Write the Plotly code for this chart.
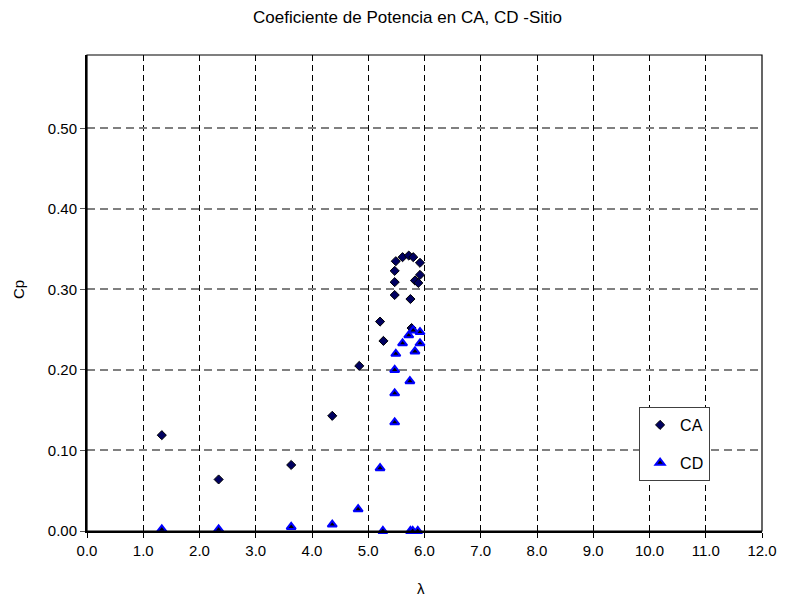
import plotly.graph_objects as go

# Tip speed ratio (lambda) and power coefficient for each configuration
ca_lambda = [1.33, 2.34, 3.63, 4.36, 4.84, 5.21, 5.27, 5.47, 5.47, 5.47, 5.49, 5.61, 5.72,
             5.75, 5.77, 5.80, 5.83, 5.89, 5.92, 5.92]
ca_cp = [0.119, 0.064, 0.082, 0.143, 0.205, 0.260, 0.236, 0.293, 0.309, 0.323, 0.335, 0.340,
         0.342, 0.288, 0.252, 0.340, 0.311, 0.308, 0.318, 0.333]

cd_lambda = [1.33, 2.34, 3.63, 4.36, 4.82, 5.21, 5.26, 5.47, 5.47, 5.47, 5.49, 5.61, 5.72,
             5.74, 5.75, 5.79, 5.80, 5.83, 5.88, 5.92, 5.92]
cd_cp = [0.002, 0.002, 0.005, 0.008, 0.027, 0.078, 0.0, 0.135, 0.171, 0.200, 0.220, 0.233,
         0.243, 0.186, 0.0, 0.0, 0.249, 0.223, 0.0, 0.233, 0.247]

x_ticks = [i * 1.0 for i in range(13)]
y_ticks = [0.0, 0.1, 0.2, 0.3, 0.4, 0.5]

FONT = "Liberation Sans, Arial, sans-serif"

L, R, T, B = 87, 21, 55, 68
W, H = 789, 599

fig = go.Figure()
fig.add_trace(go.Scatter(
    x=ca_lambda, y=ca_cp, mode="markers", name="CA", legendgroup="ca",
    marker=dict(symbol="diamond", size=7, color="#000060",
                line=dict(color="#000000", width=1)),
    cliponaxis=False,
))
fig.add_trace(go.Scatter(
    x=cd_lambda, y=cd_cp, mode="markers", name="CD", legendgroup="cd",
    marker=dict(symbol="triangle-up", size=8, color="#000000",
                line=dict(color="#0000FF", width=2)),
    cliponaxis=False,
))

fig.update_layout(
    width=W, height=H,
    margin=dict(l=L, r=R, t=T, b=B),
    paper_bgcolor="white", plot_bgcolor="white",
    font=dict(family=FONT, size=13, color="black"),
    showlegend=True,
    legend=dict(
        x=(644 - L) / (W - L - R), y=(H - B - 407) / (H - T - B),
        xanchor="left", yanchor="top",
        bgcolor="white", bordercolor="#404040", borderwidth=1,
        font=dict(size=16, family=FONT),
        itemsizing="trace", tracegroupgap=14,
        itemwidth=30,
    ),
    annotations=[
        dict(text="Coeficiente de Potencia en CA, CD -Sitio", xref="paper", yref="paper",
             x=(410 - L) / (W - L - R), y=1, yshift=55 - 17, showarrow=False,
             xanchor="center", yanchor="middle", font=dict(size=17, family=FONT)),
        dict(text="Cp", xref="paper", yref="paper", x=0, xshift=18 - L,
             y=(H - B - 290) / (H - T - B), showarrow=False, textangle=-90,
             xanchor="center", yanchor="middle", font=dict(size=15, family=FONT)),
        dict(text="λ", xref="paper", yref="paper", x=(424 - L) / (W - L - R),
             y=0, yshift=-(588 - (H - B)), showarrow=False,
             xanchor="center", yanchor="middle", font=dict(size=15, family=FONT)),
    ],
)

fig.update_xaxes(
    range=[0, 12], tickvals=x_ticks, ticktext=[f"{v:.1f}" for v in x_ticks],
    showgrid=True, gridcolor="#000000", gridwidth=1, griddash="6px,4px",
    showline=True, linecolor="black", linewidth=2, mirror=False,
    ticks="outside", ticklen=5, tickcolor="black", tickwidth=1,
    zeroline=False, tickfont=dict(size=15),
)
fig.update_yaxes(
    range=[0, 0.591], tickvals=y_ticks, ticktext=[f"{v:.2f}" for v in y_ticks],
    showgrid=True, gridcolor="#808080", gridwidth=1.5, griddash="8px,5px",
    showline=True, linecolor="black", linewidth=2, mirror=False,
    ticks="outside", ticklen=5, tickcolor="#555555", tickwidth=1,
    zeroline=False, tickfont=dict(size=15),
)

# Thin frame around the plotting area
fig.add_shape(type="rect", xref="paper", yref="paper", x0=0, y0=0, x1=1, y1=1,
              line=dict(color="black", width=1.2), layer="above")

fig.write_html("out.html")
